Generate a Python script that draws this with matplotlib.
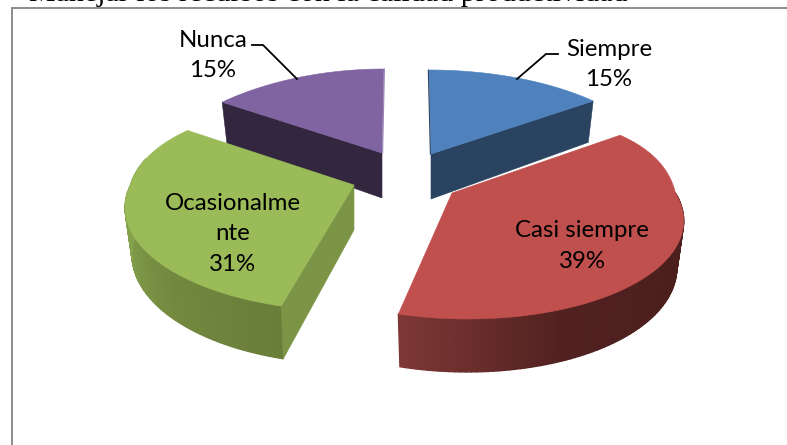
import numpy as np
import matplotlib
matplotlib.use("Agg")
import matplotlib.pyplot as plt
from matplotlib.patches import Polygon
from matplotlib.collections import PolyCollection
from matplotlib.colors import LinearSegmentedColormap

# ---- data ----
categories = ["Siempre", "Casi siempre", "Ocasionalmente", "Nunca"]
values = [15, 39, 31, 15]
label_names = ["Siempre", "Casi siempre", "Ocasionalme\nnte", "Nunca"]

# ---- style / layout ----
top_colors = ["#4f81bd", "#c0504d", "#9bbb59", "#8064a2"]
wall_colors = ["#2a4361", "#4f201e", "#7b9445", "#32273f"]
apexes = [(431, 154), (452, 193), (354, 185), (382, 153)]
x_scale = [0.99, 0.98, 0.98, 0.975]
back_x = [0.0, 0.09, 0.074, 0.0]
back_y = [0.0, 0.22, 0.07, -0.1]
front_skew = [0, 12, 0, 0]
label_pos = [(609, 64.5), (582, 246), (233, 234), (213, 55.5)]
A, B, K = 228.0, 100.8, 0.2          # ellipse radii and perspective strength
DEPTH, VANISH_X = 45.0, 405.0
BOTTOM_X_SCALE = 0.97

plt.rcParams["font.family"] = ["Lato", "DejaVu Sans"]
fig = plt.figure(figsize=(7.87, 4.45), dpi=100)
ax = fig.add_axes([0, 0, 1, 1])
ax.set_xlim(0, 787)
ax.set_ylim(445, 0)
ax.axis("off")


def project(theta, s, bottom=False):
    apex = apexes[s]
    t = np.radians(theta)
    u, v = np.sin(t), np.cos(t)
    w = 1 + K * v
    vb = max(v, 0)
    bx = 1 + back_x[s] * vb
    by = 1 + back_y[s] * (1 - vb)
    dx = A * x_scale[s] * bx * u / w - (apex[0] - VANISH_X) * 0.08 * v
    dx -= front_skew[s] * min(v, 0)
    dy = -B * (by if v > 0 else 1.0) * v / w
    if bottom:
        dx *= BOTTOM_X_SCALE
        dy += DEPTH / (1 + 0.75 * K * v)
    return apex[0] + dx, apex[1] + dy


def arc(t0, t1, s, bottom=False, n=80):
    return np.array([project(t, s, bottom) for t in np.linspace(t0, t1, n)])


def rim(t0, t1, s, stops):
    cmap = LinearSegmentedColormap.from_list("r", stops)
    ts = np.linspace(t0, t1, 90)
    quads, cols = [], []
    for i in range(len(ts) - 1):
        a, b = ts[i], ts[i + 1]
        quads.append([project(a, s), project(b, s),
                      project(b, s, True), project(a, s, True)])
        cols.append(cmap(i / (len(ts) - 2)))
    ax.add_collection(PolyCollection(quads, facecolors=cols, edgecolors=cols,
                                     linewidths=1.0, zorder=2))


def cut(theta, s, color, z=1):
    apex = apexes[s]
    bot = (apex[0], apex[1] + DEPTH)
    ax.add_patch(Polygon([apex, project(theta, s), project(theta, s, True), bot],
                         closed=True, fc=color, ec=color, lw=0.4, zorder=z))


def top(t0, t1, s, z):
    pts = np.vstack([[apexes[s]], arc(t0, t1, s)])
    ax.add_patch(Polygon(pts, closed=True, fc=top_colors[s], ec=top_colors[s],
                         lw=0.4, zorder=z))


fr = np.cumsum([0] + values) / sum(values) * 360
bounds = list(zip(fr[:-1], fr[1:]))

# back slices
cut(bounds[0][1], 0, wall_colors[0], 1)
top(*bounds[0], 0, 1.1)
cut(bounds[3][0], 3, wall_colors[3], 1)
top(*bounds[3], 3, 1.1)
# thin inner edges of the back slices
p = project(0, 0)
ax.plot([p[0] - 0.6, apexes[0][0] - 0.6], [p[1], apexes[0][1]], color="#2a4361",
        lw=0.8, zorder=1.2)
p = project(360, 3)
ax.plot([p[0] + 0.6, apexes[3][0] + 0.6], [p[1], apexes[3][1]], color="#9a86b5",
        lw=0.8, zorder=1.2)
# front slices
rim(90, bounds[1][1], 1, ["#4c1f1d", "#4c1f1d", "#502120", "#7d3735"])
top(*bounds[1], 1, 3)
rim(bounds[2][0], 285, 2, ["#697e39", "#73893f", "#83a04c", "#8aa650"])
cut(bounds[2][0], 2, wall_colors[2], 2.5)
top(*bounds[2], 2, 3)

# labels
for name, val, (x, y) in zip(label_names, values, label_pos):
    ax.text(x, y, f"{name}\n{val}%", ha="center", va="center", fontsize=17.3,
            color="black", linespacing=1.54, zorder=6)

# leader lines
ax.plot([252, 263, 297], [45, 45, 79], color="black", lw=1.3, zorder=5,
        solid_joinstyle="miter")
ax.plot([517, 546, 558], [79, 54, 54], color="black", lw=1.3, zorder=5,
        solid_joinstyle="miter")

# chart frame
ax.plot([787, 11.5, 11.5], [7.5, 7.5, 445], color="#8c8c8c", lw=1.4, zorder=0,
        solid_joinstyle="miter")

# clipped line of body text above the chart
ax.text(29, 0.6, "Manejar los recursos con la calidad productividad",
        family="Liberation Serif", fontsize=21.6, va="baseline", ha="left",
        color="black", clip_on=True, zorder=0)

fig.savefig("out.png", dpi=100)
